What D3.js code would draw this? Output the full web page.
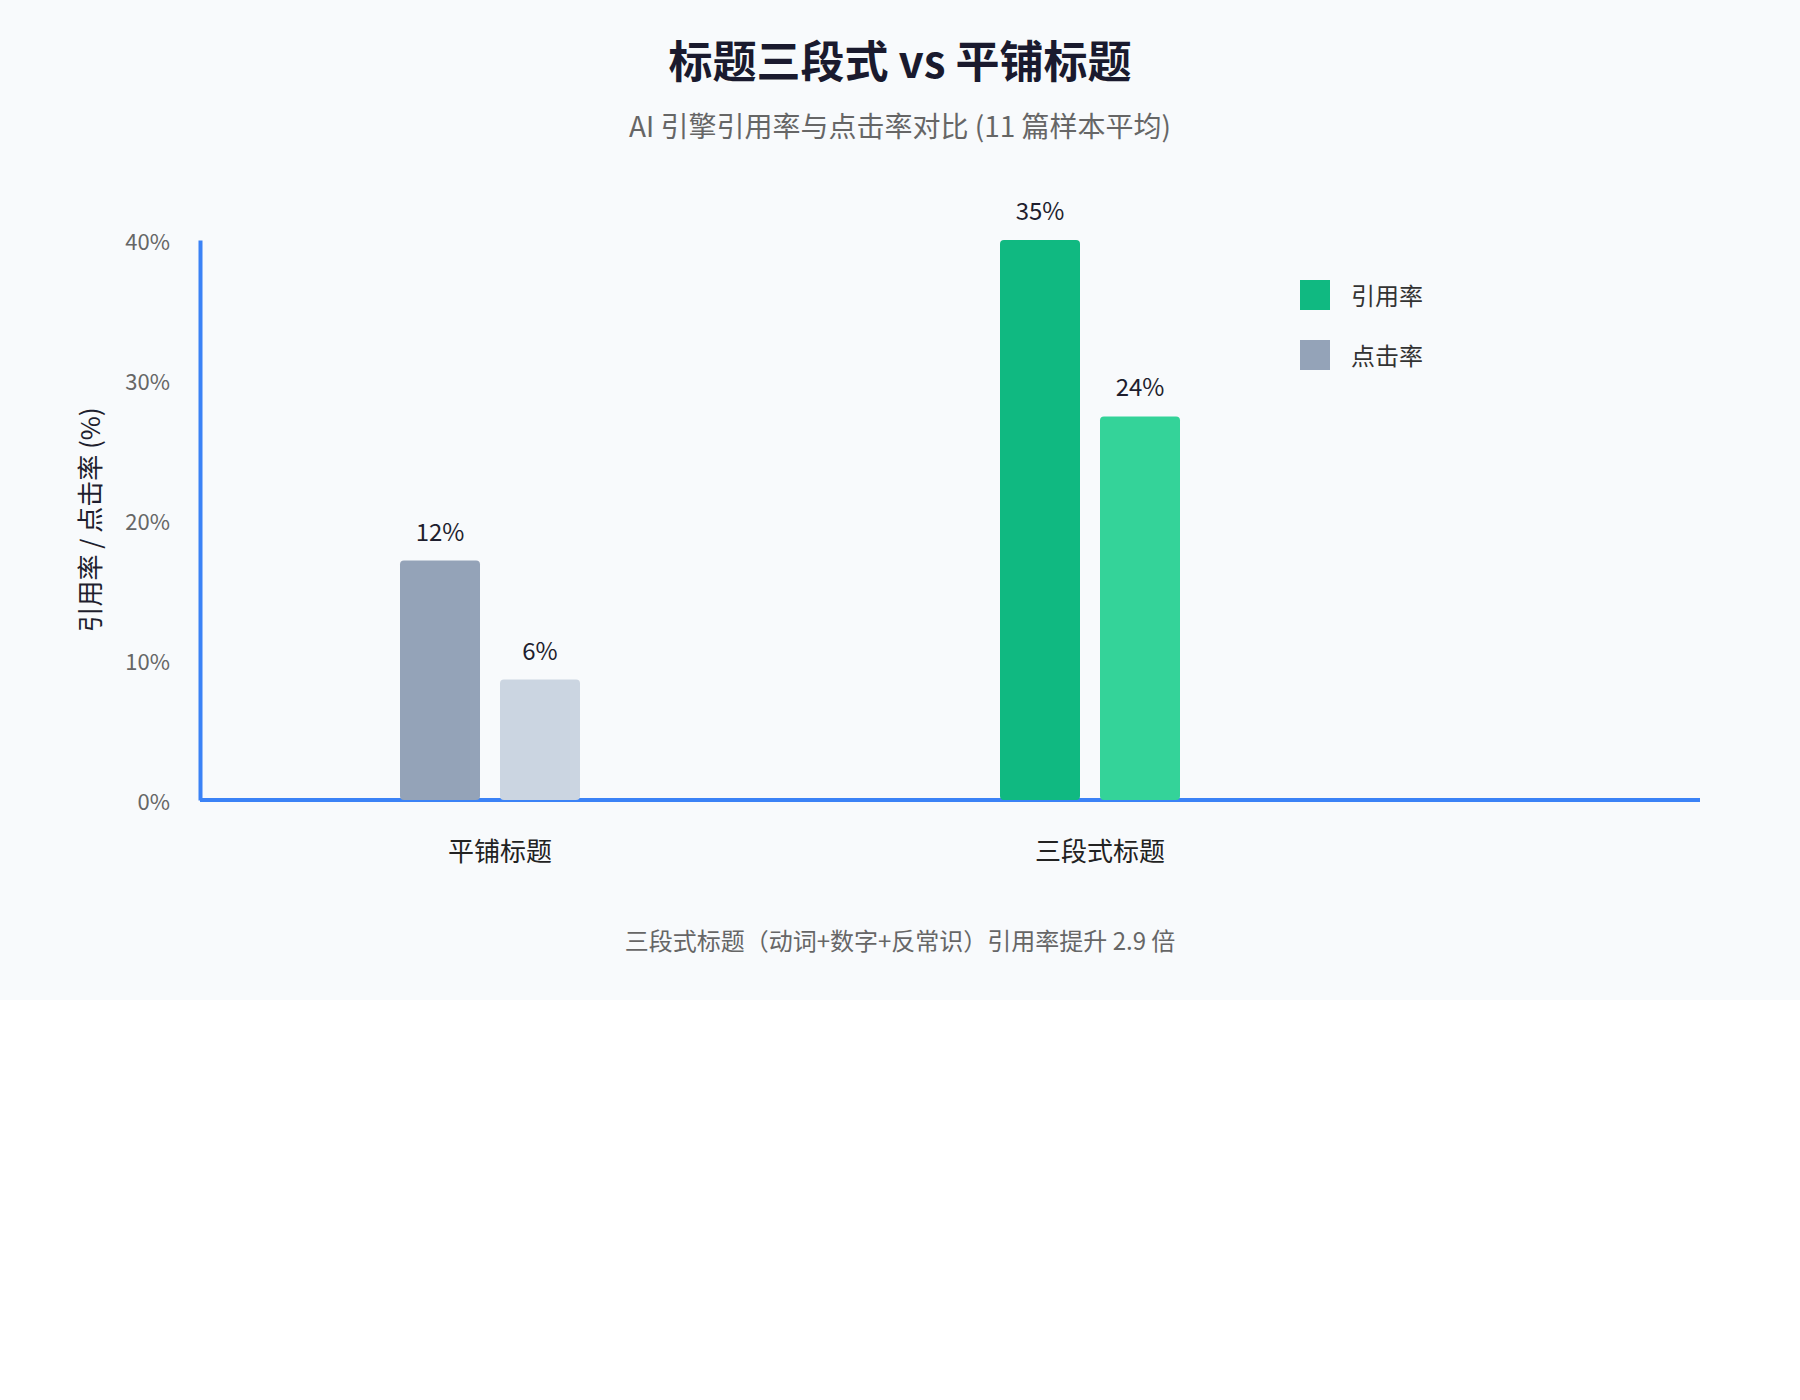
<!DOCTYPE html>
<html>
<head>
<meta charset="utf-8">
<script src="https://cdn.jsdelivr.net/npm/d3@7"></script>
<style>
  body { margin: 0; background: #ffffff; }
  svg { display: block; font-family: "Noto Sans CJK SC", "Noto Sans", sans-serif; }
</style>
</head>
<body>
<svg width="1800" height="1000"></svg>
<script>
// data
var categories = ['平铺标题', '三段式标题'];
var seriesNames = ['引用率', '点击率'];
var citeLabel = [12, 35];      // printed above the bars
var clickLabel = [6, 24];
// bar tops as read on the y axis (the picture draws them taller than their labels)
var citeLevel = [17.1, 40];
var clickLevel = [8.6, 27.4];
var yTicks = [0, 10, 20, 30, 40];

var barColors = [['#94a3b8', '#cbd5e1'], ['#10b981', '#34d399']];
var legendColors = ['#10b981', '#94a3b8'];

var svg = d3.select('svg');
var width = +svg.attr('width');
var height = +svg.attr('height');
var margin = {t: 240, r: 100, b: 200, l: 200};
var innerW = width - margin.l - margin.r;

svg.append('rect')
    .attr('width', width)
    .attr('height', height)
    .attr('fill', '#f8fafc');

svg.append('text')
    .attr('x', width / 2)
    .attr('y', 78)
    .attr('text-anchor', 'middle')
    .attr('font-size', 44)
    .attr('font-weight', 700)
    .attr('fill', '#1a1a2e')
    .text('标题三段式 vs 平铺标题');

svg.append('text')
    .attr('x', width / 2)
    .attr('y', 137)
    .attr('text-anchor', 'middle')
    .attr('font-size', 28)
    .attr('fill', '#666666')
    .text('AI 引擎引用率与点击率对比 (11 篇样本平均)');

var rows = categories.map(function(c, i) {
    return {
        cat: c,
        bars: [
            {level: citeLevel[i], label: citeLabel[i], color: barColors[i][0]},
            {level: clickLevel[i], label: clickLabel[i], color: barColors[i][1]}
        ]
    };
});

var x0 = d3.scaleBand()
    .domain(categories)
    .range([margin.l, margin.l + innerW * 0.8]);

var x1 = d3.scaleBand()
    .domain([0, 1])
    .range([0, 180])
    .paddingInner(0.2)
    .paddingOuter(0);

var y = d3.scaleLinear()
    .domain([0, 40])
    .range([height - margin.b, margin.t]);

// y axis
var yAxis = svg.append('g')
    .attr('transform', 'translate(' + margin.l + ',0)')
    .call(d3.axisLeft(y).tickValues(yTicks).tickSize(0).tickPadding(30)
        .tickFormat(function(d) { return d + '%'; }));
yAxis.select('.domain').attr('stroke', '#3b82f6').attr('stroke-width', 4);
yAxis.selectAll('text')
    .attr('dy', '0.45em')
    .attr('font-size', 22)
    .attr('fill', '#666666')
    .attr('font-family', '"Noto Sans CJK SC", sans-serif');

// x baseline
svg.append('line')
    .attr('x1', margin.l)
    .attr('x2', width - margin.r)
    .attr('y1', y(0))
    .attr('y2', y(0))
    .attr('stroke', '#3b82f6')
    .attr('stroke-width', 4);

// category labels
var xAxis = svg.append('g')
    .attr('transform', 'translate(0,' + y(0) + ')')
    .call(d3.axisBottom(x0).tickSize(0).tickPadding(43));
xAxis.select('.domain').remove();
xAxis.selectAll('text')
    .attr('font-size', 26)
    .attr('fill', '#222222')
    .attr('font-family', '"Noto Sans CJK SC", sans-serif');

var group = svg.selectAll('.group')
    .data(rows)
    .enter()
    .append('g')
    .attr('class', 'group')
    .attr('transform', function(d) {
        return 'translate(' + (x0(d.cat) + x0.bandwidth() / 2 - 100) + ',0)';
    });

group.selectAll('rect')
    .data(function(d) { return d.bars; })
    .enter()
    .append('rect')
    .attr('x', function(d, i) { return x1(i); })
    .attr('y', function(d) { return y(d.level); })
    .attr('width', x1.bandwidth())
    .attr('height', function(d) { return y(0) - y(d.level); })
    .attr('rx', 4)
    .attr('fill', function(d) { return d.color; });

group.selectAll('.value')
    .data(function(d) { return d.bars; })
    .enter()
    .append('text')
    .attr('class', 'value')
    .attr('x', function(d, i) { return x1(i) + x1.bandwidth() / 2; })
    .attr('y', function(d) { return y(d.level) - 20; })
    .attr('text-anchor', 'middle')
    .attr('font-size', 24)
    .attr('fill', '#1e1e2e')
    .text(function(d) { return d.label + '%'; });

// y axis title
svg.append('text')
    .attr('transform', 'translate(' + 88 + ',' + (y(0) + y(40)) / 2 + ') rotate(-90)')
    .attr('text-anchor', 'middle')
    .attr('dominant-baseline', 'central')
    .attr('font-size', 26)
    .attr('fill', '#1e1e2e')
    .text('引用率 / 点击率 (%)');

// legend
var legend = svg.selectAll('.legend')
    .data(seriesNames)
    .enter()
    .append('g')
    .attr('class', 'legend')
    .attr('transform', function(d, i) { return 'translate(1300,' + (280 + i * 60) + ')'; });

legend.append('rect')
    .attr('width', 30)
    .attr('height', 30)
    .attr('fill', function(d, i) { return legendColors[i]; });

legend.append('text')
    .attr('x', 51)
    .attr('y', 14)
    .attr('dominant-baseline', 'central')
    .attr('font-size', 24)
    .attr('fill', '#333333')
    .text(function(d) { return d; });

// caption
svg.append('text')
    .attr('x', width / 2)
    .attr('y', 950)
    .attr('text-anchor', 'middle')
    .attr('font-size', 24)
    .attr('fill', '#666666')
    .text('三段式标题（动词+数字+反常识）引用率提升 2.9 倍');
</script>
</body>
</html>
